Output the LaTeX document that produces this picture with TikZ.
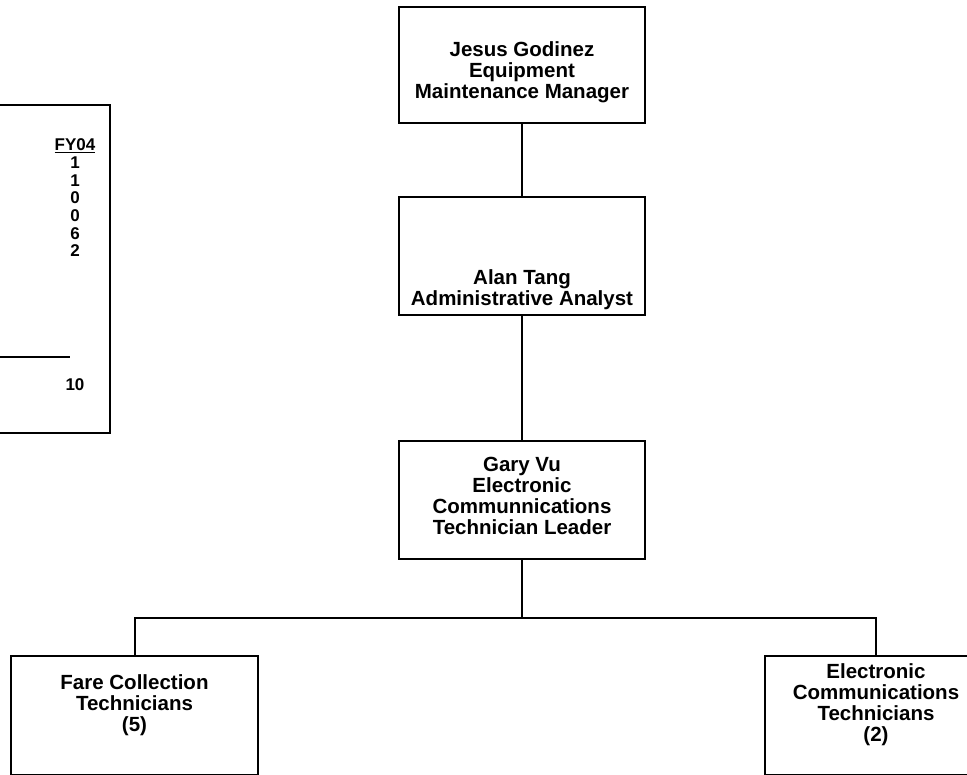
\documentclass[tikz,border=0pt]{standalone}
\usepackage{fontspec}
\setmainfont{Liberation Sans}
\usepackage{tikz}

\begin{document}
\begin{tikzpicture}[x=1pt, y=-1pt,
  every node/.style={font=\fontsize{20.5}{21}\selectfont\bfseries},
  orgbox/.style={draw, line width=2.3pt, align=center, inner sep=0pt, anchor=north},
  link/.style={line width=2pt},
  fyfont/.style={font=\fontsize{17}{17.7}\selectfont\bfseries}]
  \useasboundingbox (0,0) rectangle (967,775);
  % staffing table (cut at the left edge)
  \draw[line width=1.5pt] (-5,105) -- (110,105) -- (110,433) -- (-5,433);
  \node[fyfont, align=center, anchor=base] (fycol) at (75,257) {\underline{FY04}\\1\\1\\0\\0\\6\\2};
  \coordinate (ruleL) at (0,357);
  \coordinate (ruleR) at (70,357);
  \draw[line width=1.3pt] (ruleL) -- (ruleR);
  \node[fyfont, anchor=base] (fytotal) at (75,391) {10};
  % chain of command
  \node[orgbox, minimum width=246, text height=91, text depth=25] (jesus) at (522,6)
    {Jesus Godinez\\Equipment\\Maintenance Manager};
  \node[orgbox, minimum width=246, text height=108, text depth=10] (alan) at (522,196)
    {Alan Tang\\Administrative Analyst};
  \node[orgbox, minimum width=246, text height=93, text depth=25] (gary) at (522,440)
    {Gary Vu\\Electronic\\Communnications\\Technician Leader};
  \node[orgbox, minimum width=247, text height=75, text depth=44] (fare) at (134.5,655)
    {Fare Collection\\Technicians\\(5)};
  \node[orgbox, minimum width=222, text height=85, text depth=34] (ect) at (876,655)
    {Electronic\\Communications\\Technicians\\(2)};
  \coordinate (split) at (522,618);
  \draw[link] (jesus.south) -- (alan.north);
  \draw[link] (alan.south) -- (gary.north);
  \draw[link] (gary.south) -- (split);
  \draw[link] (fare.north) |- (split) -| (ect.north);
\end{tikzpicture}
\end{document}
